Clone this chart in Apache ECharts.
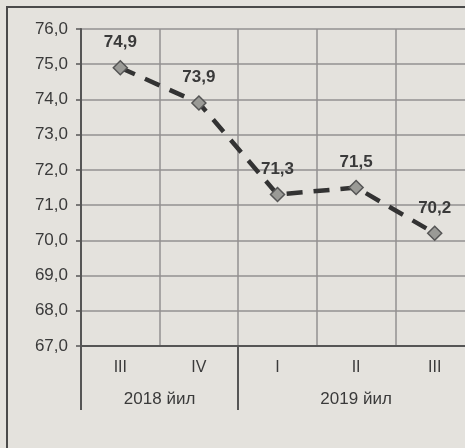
<!DOCTYPE html>
<html>
<head>
<meta charset="utf-8">
<script src="https://cdn.jsdelivr.net/npm/echarts@6/dist/echarts.min.js"></script>
<style>
html, body { margin: 0; padding: 0; background: #e4e2dd; }
#chart { width: 465px; height: 448px; }
</style>
</head>
<body>
<div id="chart"></div>
<script>
// quarters and values
const quarters = ['III', 'IV', 'I', 'II', 'III']
const values = [74.9, 73.9, 71.3, 71.5, 70.2]
// year groups: label and how many quarters they span
const years = ['2018 йил', '2019 йил']
const yearSpan = [2, 3]
const yMin = 67
const yMax = 76

// build a half-slot axis so year labels sit centred under their groups
const slots = []
const boundaries = [0]
let pos = 0
for (let i = 0; i < quarters.length * 2 + 1; i++) slots.push('')
years.forEach((y, i) => {
	slots[pos + yearSpan[i]] = y
	pos += yearSpan[i] * 2
	boundaries.push(pos)
})

const fmt = v => v.toFixed(1).replace('.', ',')
const font = 'Liberation Sans, Arial, sans-serif'
const ink = '#3a3a3a'

const chart = echarts.init(document.getElementById('chart'))
chart.setOption({
	backgroundColor: '#e4e2dd',
	animation: false,
	graphic: [{
		type: 'rect',
		shape: { x: 7, y: 7, width: 480, height: 460 },
		style: { fill: 'none', stroke: '#4a4a4a', lineWidth: 2 }
	}],
	grid: { left: 81, top: 29, width: 393, height: 317, outerBoundsMode: 'none' },
	xAxis: [{
		type: 'category',
		data: quarters,
		axisLine: { lineStyle: { color: '#555', width: 2 } },
		axisTick: { length: 32, lineStyle: { color: '#555', width: 2 } },
		axisLabel: { color: ink, fontSize: 16, fontFamily: font, margin: 14 },
		splitLine: { show: true, lineStyle: { color: '#939190', width: 1.5 } }
	}, {
		type: 'category',
		position: 'bottom',
		boundaryGap: false,
		data: slots,
		axisLine: { show: false },
		axisTick: {
			length: 64,
			interval: idx => boundaries.indexOf(idx) >= 0,
			lineStyle: { color: '#555', width: 2 }
		},
		axisLabel: { color: ink, fontSize: 17, fontFamily: font, margin: 45, interval: 0 }
	}],
	yAxis: {
		type: 'value',
		min: yMin,
		max: yMax,
		interval: 1,
		axisLine: { show: true, lineStyle: { color: '#555', width: 2 } },
		axisTick: { show: true, length: 5, lineStyle: { color: '#555', width: 1.5 } },
		axisLabel: { color: ink, fontSize: 17, fontFamily: font, margin: 13, formatter: fmt },
		splitLine: { lineStyle: { color: '#939190', width: 1.5 } }
	},
	series: [{
		type: 'line',
		data: values,
		symbol: 'diamond',
		symbolSize: 14,
		itemStyle: { color: '#9a9a96', borderColor: '#555', borderWidth: 1.5 },
		lineStyle: { color: '#333', width: 4.5, type: [16, 11] },
		label: {
			show: true,
			position: 'top',
			distance: 9,
			color: ink,
			fontSize: 17,
			fontWeight: 'bold',
			fontFamily: font,
			formatter: p => fmt(p.value)
		}
	}]
})
</script>
</body>
</html>
